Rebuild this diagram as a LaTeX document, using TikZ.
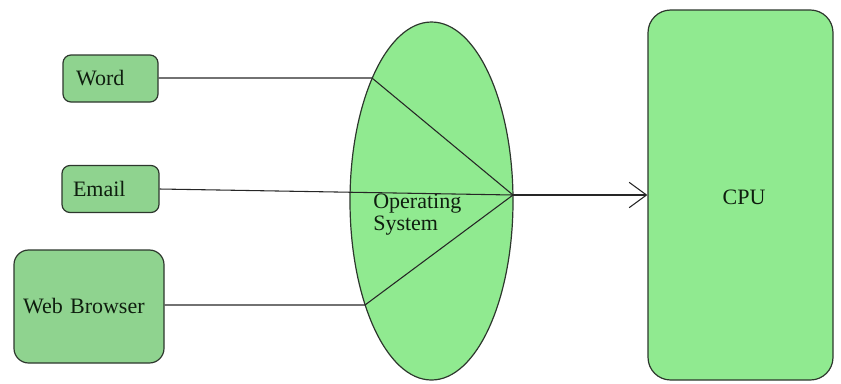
\documentclass[tikz,border=0pt]{standalone}
\usepackage{fontspec}
\setmainfont{Liberation Serif}
\usetikzlibrary{shapes.geometric,arrows.meta}
\definecolor{boxgreen}{RGB}{143,211,143}
\definecolor{lightg}{RGB}{144,234,144}
\definecolor{edgegray}{RGB}{45,55,45}
\definecolor{txt}{RGB}{15,30,15}
\tikzset{
  x=0.75pt, y=-0.75pt,
  appbox/.style={draw=edgegray, fill=boxgreen, line width=0.9pt, rounded corners=6pt,
    inner ysep=0pt, align=left, text=txt, font=\fontsize{16.5}{17}\selectfont},
  bigbox/.style={draw=edgegray, fill=lightg, line width=0.9pt, rounded corners=17pt,
    inner sep=0pt, text=txt, font=\fontsize{16.5}{17}\selectfont},
  osell/.style={draw=edgegray, fill=lightg, line width=0.9pt, ellipse, inner sep=0pt},
  conn/.style={draw=black!85, line width=0.8pt},
  lbl/.style={text=txt, font=\fontsize{16.5}{16}\selectfont, inner sep=0pt}
}
\begin{document}
\begin{tikzpicture}
\useasboundingbox (0,0) rectangle (841,383);
% boxes
\node[appbox, inner xsep=13*0.75pt, text width=69*0.75pt, minimum height=47*0.75pt] (word) at (110.5,78.5) {Word};
\node[appbox, inner xsep=11*0.75pt, text width=75*0.75pt, minimum height=47*0.75pt] (email) at (110.5,189) {Email};
\node[appbox, rounded corners=11pt, inner xsep=9*0.75pt, text width=132*0.75pt, minimum height=113*0.75pt] (web) at (89,306.5) {Web Browser};
\node[osell, minimum width=163*0.75pt, minimum height=358*0.75pt] (os) at (431.5,201) {};
\node[bigbox, minimum width=185*0.75pt, minimum height=370*0.75pt] (cpu) at (740.5,195) {};
\node[lbl] (cpulbl) at (744,197) {CPU};
\node[lbl, anchor=north west, align=left] (oslbl) at (373,194) {Operating\\System};
% connector points
\coordinate (c) at (513,195);
\coordinate (wk) at (372,78);
\coordinate (bk) at (365,305);
% connectors
\draw[conn] (word.east |- wk) -- (wk) -- (c);
\draw[conn] (email.east) -- (c);
\draw[conn] (web.east |- bk) -- (bk) -- (c);
\draw[conn, -{Straight Barb[length=13pt,width=19pt,line width=0.8pt]}] (c) -- (cpu.west);
\end{tikzpicture}
\end{document}
